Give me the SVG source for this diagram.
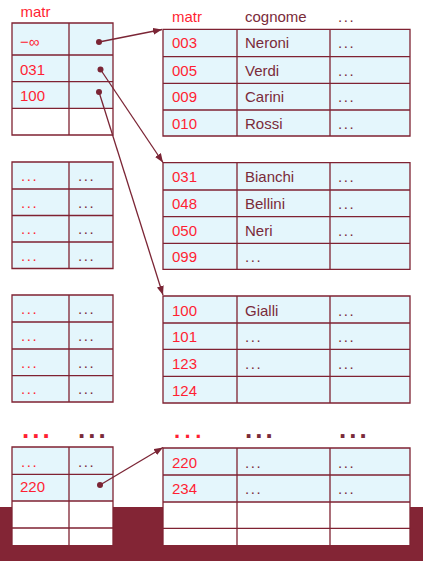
<svg xmlns="http://www.w3.org/2000/svg" width="423" height="561" viewBox="0 0 423 561">
<defs>
<style>
text{font-family:"Liberation Sans",Arial,sans-serif;font-size:15px}
.r{fill:#FF1F33}
.d{fill:#7A2B3A}
.e{letter-spacing:1.6px}
.blue{fill:#E4F6FC}
.white{fill:#FFFFFF}
.grid{fill:none;stroke:#7F2232;stroke-width:1.3}
.conn{stroke:#7B2535;stroke-width:1.3;fill:none}
.dot{fill:#7B2535}
.bigr{fill:#FF1F33;font-weight:bold;font-size:26px;letter-spacing:3px}
.bigd{fill:#7A2B3A;font-weight:bold;font-size:26px;letter-spacing:3px}
.bigr2{fill:#FF1F33;font-weight:bold;font-size:22px;letter-spacing:4.5px}
</style>
<marker id="ah" markerUnits="userSpaceOnUse" markerWidth="10" markerHeight="8" refX="9" refY="3.5" orient="auto">
<path d="M0,0 L9,3.5 L0,7 z" fill="#7B2535"/>
</marker>
</defs>
<rect width="423" height="561" fill="#FFFFFF"/>
<rect id="band" x="0" y="507" width="423" height="54" fill="#832535"/>

<g id="idx0">
<rect class="blue" x="12" y="23" width="101" height="85.3"/>
<rect class="white" x="12" y="108.3" width="101" height="26.7"/>
<path class="grid" d="M12,23 H113 V135 H12 Z M69,23 V135 M12,55 H113 M12,81.7 H113 M12,108.3 H113"/>
<text class="r" x="20.5" y="16.5">matr</text>
<text class="r" x="20" y="47" font-size="16">−∞</text>
<text class="r" x="20" y="75">031</text>
<text class="r" x="20" y="100.7">100</text>
<circle class="dot" cx="99" cy="42" r="3"/>
<circle class="dot" cx="100.5" cy="69.5" r="3"/>
<circle class="dot" cx="99" cy="92" r="3"/>
</g>

<g id="data0">
<rect class="blue" x="163" y="29.3" width="247" height="106.7"/>
<path class="grid" d="M163,29.3 H410 V136 H163 Z M237,29.3 V136 M330,29.3 V136 M163,56.7 H410 M163,83.3 H410 M163,110 H410"/>
<text class="r" x="172" y="21.7">matr</text>
<text class="d" x="245" y="21.7">cognome</text>
<text class="d e" x="338" y="21.7">...</text>
<text class="r" x="172" y="48.3">003</text><text class="d" x="245" y="48.3">Neroni</text><text class="d e" x="338" y="48.3">...</text>
<text class="r" x="172" y="75.5">005</text><text class="d" x="245" y="75.5">Verdi</text><text class="d e" x="338" y="75.5">...</text>
<text class="r" x="172" y="102">009</text><text class="d" x="245" y="102">Carini</text><text class="d e" x="338" y="102">...</text>
<text class="r" x="172" y="128.5">010</text><text class="d" x="245" y="128.5">Rossi</text><text class="d e" x="338" y="128.5">...</text>
</g>

<g id="idx1">
<rect class="blue" x="12" y="162" width="101" height="106.5"/>
<path class="grid" d="M12,162 H113 V268.5 H12 Z M69,162 V268.5 M12,189 H113 M12,215.5 H113 M12,242 H113"/>
<text class="r e" x="21" y="181">...</text><text class="d e" x="78" y="181">...</text>
<text class="r e" x="21" y="207.8">...</text><text class="d e" x="78" y="207.8">...</text>
<text class="r e" x="21" y="234.3">...</text><text class="d e" x="78" y="234.3">...</text>
<text class="r e" x="21" y="260.8">...</text><text class="d e" x="78" y="260.8">...</text>
</g>

<g id="data1">
<rect class="blue" x="163" y="162.7" width="247" height="106.6"/>
<path class="grid" d="M163,162.7 H410 V269.3 H163 Z M237,162.7 V269.3 M330,162.7 V269.3 M163,190 H410 M163,216.7 H410 M163,243.3 H410"/>
<text class="r" x="172" y="182">031</text><text class="d" x="245" y="182">Bianchi</text><text class="d e" x="338" y="182">...</text>
<text class="r" x="172" y="208.8">048</text><text class="d" x="245" y="208.8">Bellini</text><text class="d e" x="338" y="208.8">...</text>
<text class="r" x="172" y="235.5">050</text><text class="d" x="245" y="235.5">Neri</text><text class="d e" x="338" y="235.5">...</text>
<text class="r" x="172" y="261.8">099</text><text class="d e" x="245" y="261.8">...</text>
</g>

<g id="idx2">
<rect class="blue" x="12" y="295" width="101" height="107"/>
<path class="grid" d="M12,295 H113 V402 H12 Z M69,295 V402 M12,322 H113 M12,349 H113 M12,375.7 H113"/>
<text class="r e" x="21" y="314">...</text><text class="d e" x="78" y="314">...</text>
<text class="r e" x="21" y="341">...</text><text class="d e" x="78" y="341">...</text>
<text class="r e" x="21" y="367.8">...</text><text class="d e" x="78" y="367.8">...</text>
<text class="r e" x="21" y="394.3">...</text><text class="d e" x="78" y="394.3">...</text>
</g>

<g id="data2">
<rect class="blue" x="163" y="296" width="247" height="107"/>
<path class="grid" d="M163,296 H410 V403 H163 Z M237,296 V403 M330,296 V403 M163,323 H410 M163,349.3 H410 M163,376.3 H410"/>
<text class="r" x="172" y="315.5">100</text><text class="d" x="245" y="315.5">Gialli</text><text class="d e" x="338" y="315.5">...</text>
<text class="r" x="172" y="342">101</text><text class="d e" x="245" y="342">...</text><text class="d e" x="338" y="342">...</text>
<text class="r" x="172" y="368.6">123</text><text class="d e" x="245" y="368.6">...</text><text class="d e" x="338" y="368.6">...</text>
<text class="r" x="172" y="395.5">124</text>
</g>

<g id="idx3">
<text class="bigr" x="22" y="438">...</text>
<text class="bigd" x="78" y="438">...</text>
<rect class="blue" x="12" y="447" width="101" height="54"/>
<rect class="white" x="12" y="501" width="101" height="44"/>
<path class="grid" d="M12,545 V447 H113 V545 M69,447 V545 M12,474.3 H113 M12,501 H113 M12,528 H113"/>
<text class="r e" x="21" y="466.5">...</text><text class="d e" x="78" y="466.5">...</text>
<text class="r" x="20" y="492.3">220</text>
<circle class="dot" cx="100" cy="485" r="3"/>
</g>

<g id="data3">
<text class="bigr2" x="174" y="438">...</text>
<text class="bigd" x="245" y="438">...</text>
<text class="bigd" x="339" y="438">...</text>
<rect class="blue" x="163" y="448" width="247" height="54"/>
<rect class="white" x="163" y="502" width="247" height="43"/>
<path class="grid" d="M163,545 V448 H410 V545 M237,448 V545 M330,448 V545 M163,475 H410 M163,502 H410 M163,528.3 H410"/>
<text class="r" x="172" y="467.7">220</text><text class="d e" x="245" y="468">...</text><text class="d e" x="338" y="468">...</text>
<text class="r" x="172" y="493.5">234</text><text class="d e" x="245" y="494">...</text><text class="d e" x="338" y="494">...</text>
</g>

<g id="connectors">
<line class="conn" x1="99" y1="42" x2="162" y2="29.5" marker-end="url(#ah)"/>
<line class="conn" x1="100.5" y1="69.5" x2="163" y2="162.5" marker-end="url(#ah)"/>
<line class="conn" x1="99" y1="92" x2="163" y2="295" marker-end="url(#ah)"/>
<line class="conn" x1="100" y1="485" x2="163" y2="447.5" marker-end="url(#ah)"/>
</g>
</svg>
